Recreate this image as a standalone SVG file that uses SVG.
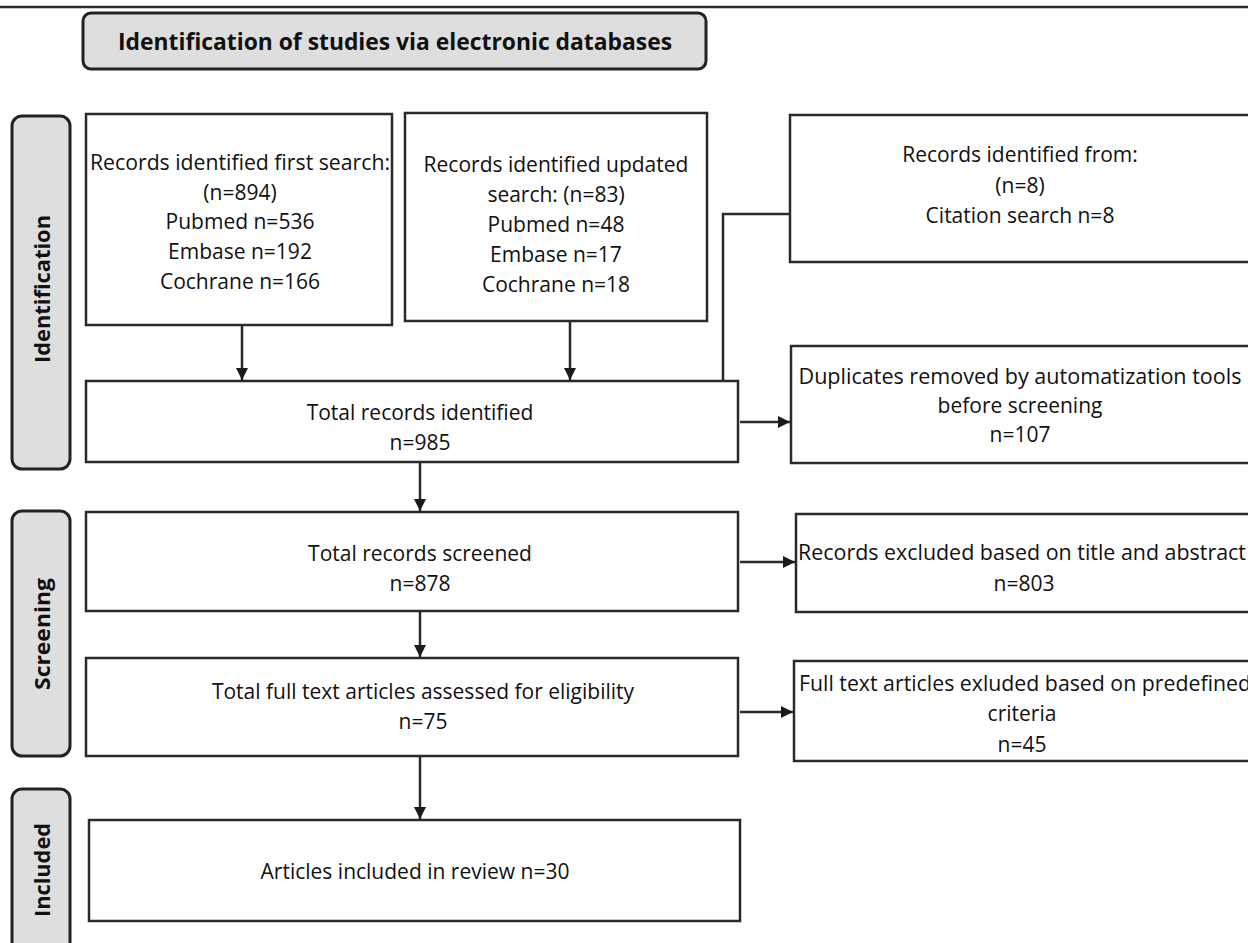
<svg xmlns="http://www.w3.org/2000/svg" width="1248" height="943" viewBox="0 0 1248 943">
<style>
.box{fill:#fff;stroke:#2a2a2a;stroke-width:2.5}
.lab{fill:#dedede;stroke:#222;stroke-width:3}
.t{font-family:"Open Sans","Liberation Sans",Arial,sans-serif;font-size:21px;fill:#111;text-anchor:middle}
.b{font-family:"Open Sans","Liberation Sans",Arial,sans-serif;font-size:22px;font-weight:bold;fill:#111;text-anchor:middle}
.c{fill:none;stroke:#2a2a2a;stroke-width:2.5}
</style>
<defs>
<marker id="ah" viewBox="0 0 12 12" refX="12" refY="6" markerWidth="12" markerHeight="12" markerUnits="userSpaceOnUse" orient="auto">
<path d="M0,0 L12,6 L0,12 Z" fill="#1a1a1a"/>
</marker>
</defs>
<rect width="1248" height="943" fill="#fff"/>
<line x1="0" y1="7" x2="1248" y2="7" stroke="#2a2a2a" stroke-width="2.5"/>

<g id="title">
<rect class="lab" x="83" y="13" width="623" height="56" rx="8"/>
<text class="b" x="395" y="50" style="font-size:24px" textLength="554" lengthAdjust="spacingAndGlyphs">Identification of studies via electronic databases</text>
</g>

<g id="label-identification">
<rect class="lab" x="12" y="116" width="58" height="353" rx="10"/>
<text class="b" transform="translate(50,289) rotate(-90)" textLength="148" lengthAdjust="spacingAndGlyphs">Identification</text>
</g>
<g id="label-screening">
<rect class="lab" x="12" y="511" width="58" height="245" rx="10"/>
<text class="b" transform="translate(50,634) rotate(-90)" textLength="112" lengthAdjust="spacingAndGlyphs">Screening</text>
</g>
<g id="label-included">
<rect class="lab" x="12" y="789" width="58" height="170" rx="10"/>
<text class="b" transform="translate(50,870) rotate(-90)" textLength="94" lengthAdjust="spacingAndGlyphs">Included</text>
</g>

<g id="first-search">
<rect class="box" x="86" y="114" width="306" height="211"/>
<text class="t" x="240" y="170" textLength="300" lengthAdjust="spacingAndGlyphs">Records identified first search:</text>
<text class="t" x="240" y="200">(n=894)</text>
<text class="t" x="240" y="229">Pubmed n=536</text>
<text class="t" x="240" y="259">Embase n=192</text>
<text class="t" x="240" y="289">Cochrane n=166</text>
</g>

<g id="updated-search">
<rect class="box" x="405" y="113" width="302" height="208"/>
<text class="t" x="556" y="172">Records identified updated</text>
<text class="t" x="556" y="202">search: (n=83)</text>
<text class="t" x="556" y="232">Pubmed n=48</text>
<text class="t" x="556" y="262">Embase n=17</text>
<text class="t" x="556" y="292">Cochrane n=18</text>
</g>

<g id="citation-search">
<rect class="box" x="790" y="115" width="472" height="147"/>
<text class="t" x="1020" y="162">Records identified from:</text>
<text class="t" x="1020" y="193">(n=8)</text>
<text class="t" x="1020" y="223">Citation search n=8</text>
</g>

<g id="total-identified">
<rect class="box" x="86" y="381" width="652" height="81"/>
<text class="t" x="420" y="420">Total records identified</text>
<text class="t" x="420" y="450">n=985</text>
</g>

<g id="duplicates">
<rect class="box" x="791" y="346" width="472" height="117"/>
<text class="t" x="1020" y="384" textLength="443" lengthAdjust="spacingAndGlyphs">Duplicates removed by automatization tools</text>
<text class="t" x="1020" y="413">before screening</text>
<text class="t" x="1020" y="442">n=107</text>
</g>

<g id="screened">
<rect class="box" x="86" y="512" width="652" height="99"/>
<text class="t" x="420" y="561">Total records screened</text>
<text class="t" x="420" y="591">n=878</text>
</g>

<g id="excluded-title">
<rect class="box" x="796" y="514" width="470" height="98"/>
<text class="t" x="1022" y="560" textLength="448" lengthAdjust="spacingAndGlyphs">Records excluded based on title and abstract</text>
<text class="t" x="1024" y="591">n=803</text>
</g>

<g id="fulltext">
<rect class="box" x="86" y="658" width="652" height="98"/>
<text class="t" x="423" y="699">Total full text articles assessed for eligibility</text>
<text class="t" x="423" y="729">n=75</text>
</g>

<g id="excluded-fulltext">
<rect class="box" x="794" y="661" width="470" height="100"/>
<text class="t" x="1025" y="691" textLength="452" lengthAdjust="spacingAndGlyphs">Full text articles exluded based on predefined</text>
<text class="t" x="1022" y="721">criteria</text>
<text class="t" x="1022" y="752">n=45</text>
</g>

<g id="included">
<rect class="box" x="89" y="820" width="651" height="101"/>
<text class="t" x="415" y="879">Articles included in review n=30</text>
</g>

<g id="connectors">
<line class="c" x1="242" y1="325" x2="242" y2="380" marker-end="url(#ah)"/>
<line class="c" x1="570" y1="321" x2="570" y2="380" marker-end="url(#ah)"/>
<polyline class="c" points="790,214 723,214 723,381"/>
<line class="c" x1="740" y1="422" x2="790" y2="422" marker-end="url(#ah)"/>
<line class="c" x1="420" y1="462" x2="420" y2="511" marker-end="url(#ah)"/>
<line class="c" x1="740" y1="562" x2="795" y2="562" marker-end="url(#ah)"/>
<line class="c" x1="420" y1="611" x2="420" y2="657" marker-end="url(#ah)"/>
<line class="c" x1="740" y1="712" x2="793" y2="712" marker-end="url(#ah)"/>
<line class="c" x1="420" y1="756" x2="420" y2="819" marker-end="url(#ah)"/>
</g>
</svg>
